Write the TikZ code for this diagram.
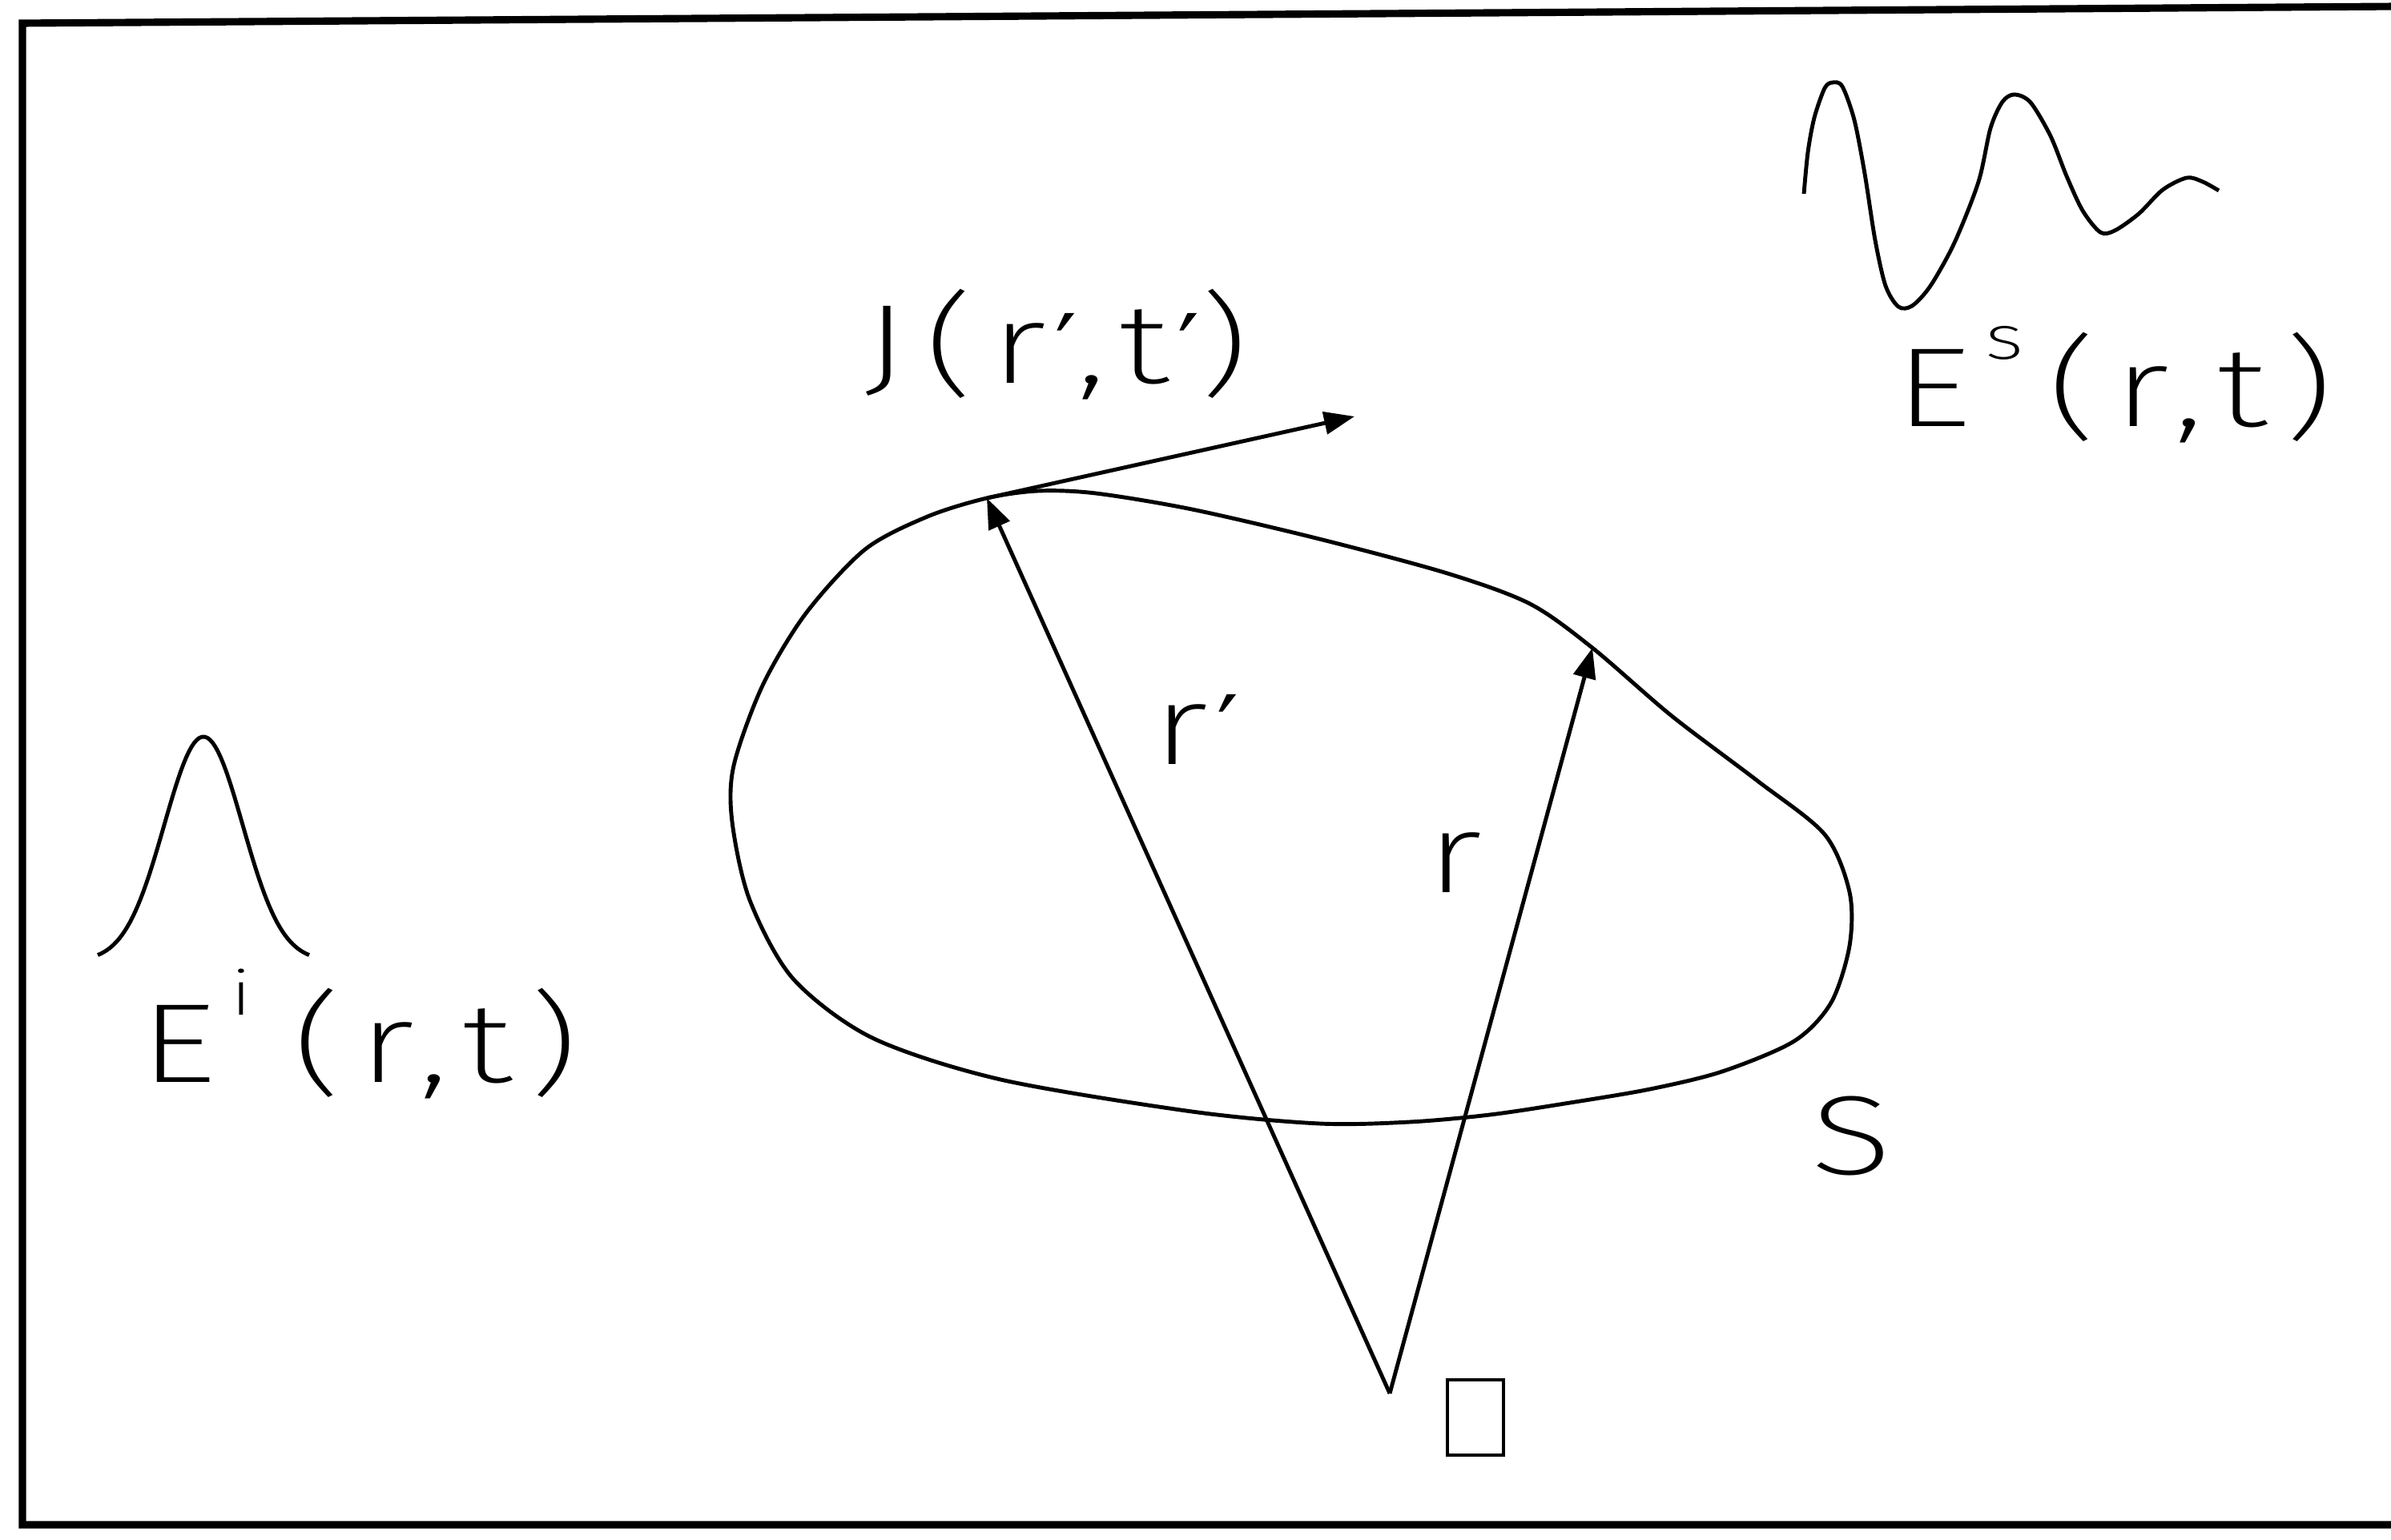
\documentclass[tikz,border=0pt]{standalone}
\usepackage{fontspec}
\setmainfont{Fira Sans}[UprightFont={* ExtraLight}, FakeStretch=1.35, LetterSpace=15]
\newfontfamily\primefont{DejaVu Sans}
\usetikzlibrary{arrows.meta,positioning,calc}
\newcommand{\supx}[1]{\makebox[27pt][l]{\hspace{5pt}\raisebox{24pt}{\fontsize{22}{22}\selectfont #1}}}
\newcommand{\prm}{{\hspace{3pt}\primefont\fontsize{34}{40}\selectfont ′}}

\begin{document}
\begin{tikzpicture}[
    every node/.style={font=\fontsize{40}{48}\selectfont},
    frame/.style={draw=black, line width=2.6pt},
    curve/.style={draw=black, line width=1.4pt, line join=round},
    arrow/.style={-{Triangle[length=3.8mm,width=2.8mm]}, line width=1.4pt},
    lbl/.style={anchor=base west, inner sep=0pt},
    origbox/.style={draw=black, line width=1.3pt, rectangle, inner sep=0pt,
                minimum width=7mm, minimum height=9.4mm}
  ]
    \useasboundingbox (0,0) rectangle (29.85,19.22);

    % Frame
    \draw[frame] (29.95,0.18) -- (0.28,0.18) -- (0.28,18.93) -- (29.95,19.14);

    % Points on S and origin
    \coordinate (Pj) at (12.32,13.00);
    \coordinate (Pr) at (19.88,11.13);
    \coordinate (O)  at (17.35,1.82);
    \coordinate (Jtip) at (16.91,14.02);

    % Surface S
    \draw[curve] plot[smooth cycle] coordinates {
      (12.32,13.00) (12.96,13.09) (13.68,13.06) (14.88,12.86) (16.47,12.49)
      (18.07,12.06) (19.10,11.68) (19.88,11.13) (20.87,10.28)
      (21.94,9.47) (22.78,8.80) (23.09,8.08) (23.09,7.41) (22.86,6.70)
      (22.40,6.22) (21.50,5.84) (20.60,5.62) (19.60,5.45) (18.60,5.30)
      (17.60,5.21) (16.47,5.19) (14.88,5.34) (12.49,5.74) (10.89,6.26) (9.90,7.00)
      (9.36,7.98) (9.14,8.96) (9.16,9.66) (9.52,10.66) (10.06,11.56)
      (10.80,12.36) (11.58,12.77)};

    % Incident pulse
    \draw[curve] plot[domain=1.22:3.86, samples=80]
      (\x, {7.22 + 2.8*exp(-((\x-2.54)^2)/0.48)});

    % Scattered wave
    \draw[curve] plot[smooth] coordinates {
      (22.52,16.80) (22.57,17.32) (22.65,17.75) (22.78,18.12) (22.88,18.19)
      (23.00,18.14) (23.15,17.72) (23.28,17.05) (23.41,16.22) (23.54,15.65)
      (23.70,15.39) (23.87,15.40) (24.10,15.65) (24.40,16.19) (24.70,16.95)
      (24.85,17.62) (25.00,17.95) (25.15,18.04) (25.35,17.94) (25.60,17.52)
      (25.80,17.02) (26.00,16.59) (26.22,16.32) (26.40,16.34) (26.70,16.55)
      (27.00,16.85) (27.30,17.00) (27.50,16.95) (27.70,16.84)};

    % Vectors
    \draw[arrow] (O)  -- (Pj);
    \draw[arrow] (O)  -- (Pr);
    \draw[arrow] (Pj) -- (Jtip);

    % Labels
    \node[lbl] (lblJ)  at (10.78,14.43) {J(r\prm,t\prm)};
    \node[lbl] (lblRp) at (14.38,9.67)  {r\prm};
    \node[lbl] (lblR)  at (17.80,8.07)  {r};
    \node[lbl] (lblS)  at (22.60,4.56)  {S};
    \node[lbl] (lblEi) at (1.74,5.70)   {E\supx{i}(r,t)};
    \node[lbl] (lblEs) at (23.65,13.89) {E\supx{s}(r,t)};
    \node[origbox] (orig) at (18.42,1.52) {};
  \end{tikzpicture}
\end{document}
